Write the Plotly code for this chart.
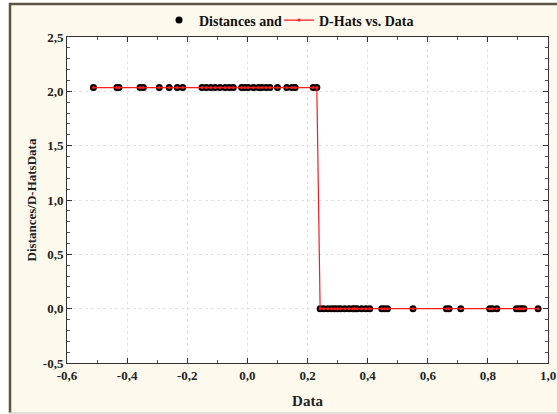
import plotly.graph_objects as go

# ---- data ----
data_x = [-0.512, -0.434, -0.427, -0.357, -0.346, -0.293, -0.260, -0.233, -0.215,
          -0.151, -0.137, -0.122, -0.107, -0.091, -0.074, -0.060, -0.047, -0.019,
          -0.008, 0.003, 0.020, 0.037, 0.048, 0.062, 0.075, 0.100, 0.131, 0.148,
          0.159, 0.219, 0.231,
          0.242, 0.254, 0.268, 0.280, 0.290, 0.300, 0.310, 0.324, 0.338, 0.350,
          0.357, 0.365, 0.380, 0.394, 0.407, 0.447, 0.456, 0.466, 0.551, 0.662,
          0.671, 0.710, 0.806, 0.815, 0.830, 0.895, 0.904, 0.912, 0.920, 0.967]
n_high = 31
distances = [2.035] * n_high + [0.0] * (len(data_x) - n_high)
d_hats = [2.035] * n_high + [0.0] * (len(data_x) - n_high)

x_tickvals = [-0.6, -0.4, -0.2, 0.0, 0.2, 0.4, 0.6, 0.8, 1.0]
x_ticktext = ["-0,6", "-0,4", "-0,2", "0,0", "0,2", "0,4", "0,6", "0,8", "1,0"]
y_tickvals = [-0.5, 0.0, 0.5, 1.0, 1.5, 2.0, 2.5]
y_ticktext = ["-0,5", "0,0", "0,5", "1,0", "1,5", "2,0", "2,5"]

FONT = "Liberation Serif"
W, H = 557, 414
L, R, T, B = 67, 9, 37, 51
pw, ph = W - L - R, H - T - B


def px_x(p):
    return (p - L) / pw


def px_y(p):
    return (H - B - p) / ph


fig = go.Figure()
fig.add_trace(go.Scatter(
    x=data_x, y=distances, mode="markers", name="Distances and",
    marker=dict(color="black", size=7, symbol="circle"), legend="legend",
))
fig.add_trace(go.Scatter(
    x=data_x, y=d_hats, mode="lines+markers", name="D-Hats vs. Data",
    line=dict(color="#ff1a1a", width=1.2),
    marker=dict(color="#ff1a1a", size=3, symbol="circle"), legend="legend2",
))

axis_common = dict(
    showline=True, linecolor="#333333", linewidth=1, mirror="ticks",
    ticks="inside", ticklen=5, tickcolor="#333333",
    showgrid=True, gridcolor="#e2e2e2", griddash="dot", gridwidth=1,
    zeroline=False, automargin=False,
    tickfont=dict(family=FONT, size=13, color="#222222", weight="bold"),
    minor=dict(ticks="inside", ticklen=3, tickcolor="#555555", showgrid=False),
)

fig.update_xaxes(
    range=[-0.6, 1.0], tickvals=x_tickvals, ticktext=x_ticktext,
    title=dict(text="<b>Data</b>", font=dict(family=FONT, size=15, color="#222222"), standoff=13),
    **axis_common,
)
fig.update_xaxes(minor_dtick=0.1, minor_tick0=0)
fig.update_yaxes(
    range=[-0.5, 2.5], tickvals=y_tickvals, ticktext=y_ticktext,
    title=dict(text="<b>Distances/D-HatsData</b>", font=dict(family=FONT, size=13, color="#222222"), standoff=3),
    **axis_common,
)
fig.update_yaxes(minor_dtick=0.1, minor_tick0=0)

shapes = [
    dict(type="rect", xref="paper", yref="paper", layer="below",
         x0=px_x(9), x1=px_x(W + 5), y0=px_y(H - 1), y1=px_y(3),
         fillcolor="#fef9ed", line=dict(width=0)),
    dict(type="rect", xref="paper", yref="paper", layer="below",
         x0=0, x1=1, y0=0, y1=1, fillcolor="white", line=dict(width=0)),
    dict(type="line", xref="paper", yref="paper", layer="below",
         x0=px_x(10), x1=px_x(10), y0=px_y(H - 1), y1=px_y(3),
         line=dict(color="#5b5542", width=2.5)),
    dict(type="line", xref="paper", yref="paper", layer="below",
         x0=px_x(9), x1=px_x(W + 5), y0=px_y(4), y1=px_y(4),
         line=dict(color="#5b5542", width=2.5)),
    dict(type="line", xref="paper", yref="paper", layer="below",
         x0=px_x(9), x1=px_x(W + 5), y0=px_y(H - 1), y1=px_y(H - 1),
         line=dict(color="#d8d6d0", width=1.5)),
]

legend_common = dict(
    orientation="h", xref="container", xanchor="left",
    yref="container", y=1 - 20.5 / H, yanchor="middle",
    bgcolor="rgba(0,0,0,0)",
    font=dict(family=FONT, size=14, color="#111111", weight="bold"),
    itemwidth=30,
)

fig.update_layout(
    width=W, height=H,
    margin=dict(l=L, r=R, t=T, b=B, autoexpand=False),
    paper_bgcolor="white", plot_bgcolor="white",
    shapes=shapes,
    showlegend=True,
    legend=dict(x=159 / W, **legend_common),
    legend2=dict(x=279 / W, **legend_common),
)

fig.write_html(
    "out.html",
    config={"displayModeBar": False},
    post_script="document.body.style.margin='0px';document.body.style.overflow='hidden';",
)
